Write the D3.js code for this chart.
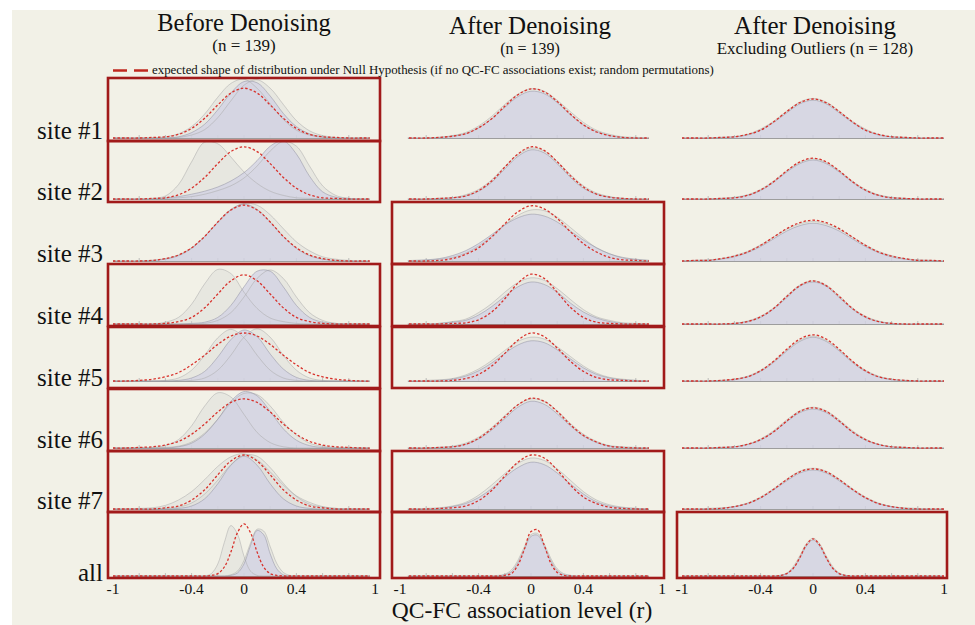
<!DOCTYPE html>
<html lang="en">
<head>
<meta charset="UTF-8"/>
<title>QC-FC association distributions</title>
<script src="https://d3js.org/d3.v7.min.js"></script>
<style>
  body { margin: 0; background: #ffffff; }
  svg text { font-family: "Liberation Serif", "Times New Roman", serif; fill: #111; }
</style>
</head>
<body>
<script>
// ---------------- data ----------------
var rowNames = ["site #1", "site #2", "site #3", "site #4", "site #5", "site #6", "site #7", "all"];
var colTitles = ["Before Denoising", "After Denoising", "After Denoising"];
var colSubtitles = ["(n = 139)", "(n = 139)", "Excluding Outliers (n = 128)"];
var tickLabels = [-1, -0.4, 0, 0.4, 1];
var panelTicks = [-0.8, -0.6, -0.4, -0.2, 0, 0.2, 0.4, 0.6, 0.8];

// r values where the densities were read (sites), and a finer one for "all"
var rGrid = [-1, -0.9, -0.8, -0.7, -0.6, -0.5, -0.4, -0.3, -0.2, -0.1, 0, 0.1, 0.2, 0.3, 0.4, 0.5, 0.6, 0.7, 0.8, 0.9, 1];
var rGridAll = [-1, -0.5, -0.4, -0.35, -0.3, -0.25, -0.2, -0.15, -0.1, -0.05, 0, 0.05, 0.1, 0.15, 0.2, 0.25, 0.3, 0.35, 0.4, 0.5, 1];

// relative density, Before Denoising
var beforeMain = [
  [0,0,0,0,0,.02,.09,.23,.47,.75,.94,.92,.70,.41,.19,.07,.02,0,0,0,0],
  [0,0,0,0,.02,.04,.08,.13,.20,.30,.44,.64,.88,.97,.75,.38,.12,.03,.01,0,0],
  [0,0,0,.01,.03,.09,.21,.41,.65,.86,.95,.86,.65,.41,.21,.09,.03,.01,0,0,0],
  [0,0,0,0,0,0,.01,.03,.11,.31,.62,.88,.88,.62,.31,.11,.03,.01,0,0,0],
  [0,0,0,0,0,.01,.05,.16,.40,.69,.85,.74,.45,.20,.06,.01,0,0,0,0,0],
  [0,0,0,0,0,.02,.08,.23,.48,.78,.94,.87,.61,.32,.13,.04,.01,0,0,0,0],
  [0,0,0,0,0,.01,.05,.17,.42,.73,.88,.73,.42,.17,.05,.01,0,0,0,0,0],
  [0,0,0,0,0,0,0,0,.01,.05,.20,.51,.76,.69,.37,.12,.02,0,0,0,0]
];
var beforeAltA = [
  [0,0,0,0,.02,.07,.19,.40,.68,.91,.98,.83,.57,.31,.13,.05,.01,0,0,0,0],
  [0,0,0,.01,.05,.24,.62,.95,.92,.70,.45,.26,.13,.06,.02,.01,0,0,0,0,0],
  [0,0,0,.01,.04,.10,.22,.41,.64,.85,.96,.93,.77,.54,.32,.17,.07,.03,.01,0,0],
  [0,0,0,0,.03,.11,.33,.67,.91,.84,.53,.26,.10,.04,.01,0,0,0,0,0,0],
  [0,0,0,0,.01,.05,.18,.43,.72,.86,.72,.43,.18,.05,.01,0,0,0,0,0,0],
  [0,0,0,.01,.04,.14,.37,.70,.92,.85,.56,.26,.09,.02,0,0,0,0,0,0,0],
  [0,0,.01,.02,.06,.15,.29,.49,.71,.87,.92,.82,.62,.40,.22,.11,.04,.01,0,0,0],
  [0,0,0,0,0,.04,.20,.56,.84,.70,.33,.08,.01,0,0,0,0,0,0,0,0]
];
var beforeAltB = [
  [0,0,0,0,0,.01,.05,.14,.34,.62,.88,.97,.83,.56,.29,.12,.04,.01,0,0,0],
  [0,0,0,0,.01,.02,.04,.08,.14,.22,.35,.55,.80,.96,.88,.55,.22,.06,.01,0,0],
  null,
  [0,0,0,0,0,0,0,.01,.06,.19,.45,.76,.90,.76,.45,.19,.06,.01,0,0,0],
  [0,0,0,0,0,0,.01,.05,.18,.43,.73,.87,.73,.43,.18,.05,.01,0,0,0,0],
  [0,0,0,0,.01,.03,.10,.25,.48,.75,.91,.89,.70,.43,.22,.08,.03,.01,0,0,0],
  [0,0,0,0,.01,.03,.10,.25,.48,.74,.90,.88,.69,.43,.21,.08,.03,.01,0,0,0],
  [0,0,0,0,0,0,0,0,.02,.08,.26,.55,.78,.75,.49,.21,.06,.01,0,0,0]
];
var beforeNull = [
  [0,0,0,.01,.02,.06,.16,.33,.55,.75,.83,.75,.55,.33,.16,.06,.02,.01,0,0,0],
  [0,0,0,.01,.02,.07,.18,.36,.59,.79,.87,.79,.59,.36,.18,.07,.02,.01,0,0,0],
  [0,0,0,.01,.04,.10,.22,.41,.65,.85,.93,.85,.65,.41,.22,.10,.04,.01,0,0,0],
  [0,0,0,0,.01,.04,.11,.27,.50,.72,.82,.72,.50,.27,.11,.04,.01,0,0,0,0],
  [0,0,.01,.03,.07,.14,.27,.43,.61,.75,.80,.75,.61,.43,.27,.14,.07,.03,.01,0,0],
  [0,0,.01,.02,.05,.11,.23,.40,.60,.76,.82,.76,.60,.40,.23,.11,.05,.02,.01,0,0],
  [0,0,0,0,.02,.05,.15,.32,.57,.80,.90,.80,.57,.32,.15,.05,.02,0,0,0,0],
  [0,0,0,0,0,.01,.04,.15,.40,.72,.87,.72,.40,.15,.04,.01,0,0,0,0,0]
];

// After Denoising
var afterMain = [
  [0,0,0,.01,.03,.07,.17,.32,.51,.69,.78,.74,.59,.39,.22,.11,.04,.01,0,0,0],
  [0,0,0,.01,.02,.05,.13,.28,.50,.71,.82,.77,.59,.36,.18,.08,.03,.01,0,0,0],
  [0,.01,.02,.04,.09,.17,.29,.44,.60,.72,.78,.75,.65,.50,.35,.22,.12,.06,.03,.01,0],
  [0,0,0,.01,.03,.06,.15,.29,.46,.62,.70,.66,.53,.35,.20,.10,.04,.01,0,0,0],
  [0,0,0,.01,.03,.08,.17,.30,.46,.60,.67,.64,.52,.37,.22,.11,.05,.02,.01,0,0],
  [0,0,0,.01,.02,.06,.15,.30,.49,.68,.78,.73,.57,.37,.20,.09,.03,.01,0,0,0],
  [0,0,0,.01,.04,.09,.19,.34,.53,.69,.78,.74,.60,.42,.25,.12,.05,.02,.01,0,0],
  [0,0,0,0,0,0,.02,.07,.22,.45,.66,.68,.50,.26,.09,.02,.01,0,0,0,0]
];
var afterAlt = [
  [0,0,0,.01,.04,.09,.20,.36,.56,.73,.82,.78,.63,.44,.26,.13,.06,.02,.01,0,0],
  [0,0,0,.01,.02,.07,.16,.32,.54,.74,.85,.80,.63,.41,.22,.10,.04,.01,0,0,0],
  [0,0,.01,.03,.06,.13,.25,.41,.60,.76,.85,.84,.73,.56,.38,.22,.12,.05,.02,.01,0],
  [0,0,0,.01,.04,.08,.19,.34,.53,.69,.77,.73,.59,.41,.24,.12,.06,.02,.01,0,0],
  [0,0,.01,.02,.04,.10,.20,.34,.51,.66,.73,.70,.57,.41,.25,.13,.06,.03,.01,0,0],
  [0,0,0,.01,.03,.08,.18,.34,.54,.72,.82,.78,.62,.41,.23,.11,.04,.02,.01,0,0],
  [0,0,.01,.02,.05,.11,.23,.40,.59,.76,.85,.81,.67,.48,.29,.15,.07,.03,.01,0,0],
  [0,0,0,0,0,.01,.03,.10,.26,.49,.69,.71,.54,.30,.12,.04,.01,0,0,0,0]
];
var afterNull = [
  [0,0,0,.01,.03,.07,.17,.32,.53,.72,.82,.77,.61,.40,.22,.10,.04,.01,0,0,0],
  [0,0,0,.01,.02,.05,.14,.30,.53,.75,.87,.81,.62,.39,.20,.08,.03,.01,0,0,0],
  [0,0,0,.01,.04,.11,.22,.40,.62,.82,.92,.87,.71,.49,.29,.15,.06,.02,.01,0,0],
  [0,0,0,0,.01,.02,.07,.20,.42,.68,.83,.76,.53,.28,.11,.03,.01,0,0,0,0],
  [0,0,0,0,.01,.04,.11,.25,.46,.68,.80,.74,.55,.33,.16,.06,.02,.01,0,0,0],
  [0,0,0,.01,.02,.06,.16,.32,.52,.72,.83,.78,.61,.39,.21,.10,.03,.01,0,0,0],
  [0,0,0,.01,.02,.05,.14,.31,.55,.78,.90,.85,.65,.40,.20,.09,.03,.01,0,0,0],
  [0,0,0,0,0,0,.01,.04,.18,.45,.74,.77,.52,.22,.06,.01,0,0,0,0,0]
];

// After Denoising, excluding outliers
var exclMain = [
  [0,0,0,.01,.02,.05,.13,.26,.42,.57,.63,.57,.42,.26,.13,.05,.02,.01,0,0,0],
  [0,0,0,.01,.02,.06,.14,.28,.45,.59,.65,.59,.45,.28,.14,.06,.02,.01,0,0,0],
  [0,.01,.01,.03,.07,.14,.24,.37,.50,.59,.63,.59,.50,.37,.24,.14,.07,.03,.01,.01,0],
  [0,0,0,0,.01,.04,.11,.25,.44,.63,.70,.63,.44,.25,.11,.04,.01,0,0,0,0],
  [0,0,0,.01,.02,.07,.16,.31,.50,.66,.73,.66,.50,.31,.16,.07,.02,.01,0,0,0],
  [0,0,0,.01,.02,.06,.13,.27,.44,.59,.65,.59,.44,.27,.13,.06,.02,.01,0,0,0],
  [0,0,0,.01,.04,.09,.18,.32,.47,.60,.65,.60,.47,.32,.18,.09,.04,.01,0,0,0],
  [0,0,0,0,0,.01,.04,.13,.30,.50,.60,.50,.30,.13,.04,.01,0,0,0,0,0]
];
var exclAlt = [
  [0,0,0,.01,.02,.06,.15,.28,.45,.60,.66,.60,.45,.28,.15,.06,.02,.01,0,0,0],
  [0,0,0,.01,.03,.07,.16,.30,.47,.61,.67,.61,.47,.30,.16,.07,.03,.01,0,0,0],
  [0,.01,.02,.04,.09,.16,.27,.40,.53,.62,.66,.62,.53,.40,.27,.16,.09,.04,.02,.01,0],
  [0,0,0,0,.01,.05,.13,.27,.47,.65,.72,.65,.47,.27,.13,.05,.01,0,0,0,0],
  [0,0,0,.01,.03,.08,.18,.33,.52,.68,.75,.68,.52,.33,.18,.08,.03,.01,0,0,0],
  [0,0,0,.01,.02,.06,.15,.29,.47,.62,.68,.62,.47,.29,.15,.06,.02,.01,0,0,0],
  [0,0,.01,.02,.04,.10,.20,.34,.50,.63,.68,.63,.50,.34,.20,.10,.04,.02,.01,0,0],
  [0,0,0,0,0,.01,.05,.16,.34,.54,.63,.54,.34,.16,.05,.01,0,0,0,0,0]
];
var exclNull = [
  [0,0,0,.01,.02,.06,.13,.27,.44,.59,.65,.59,.44,.27,.13,.06,.02,.01,0,0,0],
  [0,0,0,.01,.02,.06,.15,.29,.47,.62,.68,.62,.47,.29,.15,.06,.02,.01,0,0,0],
  [0,.01,.01,.04,.08,.15,.26,.40,.54,.64,.68,.64,.54,.40,.26,.15,.08,.04,.01,.01,0],
  [0,0,0,0,.01,.04,.12,.26,.46,.64,.72,.64,.46,.26,.12,.04,.01,0,0,0,0],
  [0,0,0,.01,.03,.07,.17,.33,.53,.70,.77,.70,.53,.33,.17,.07,.03,.01,0,0,0],
  [0,0,0,.01,.02,.06,.14,.27,.45,.61,.67,.61,.45,.27,.14,.06,.02,.01,0,0,0],
  [0,0,0,.01,.04,.09,.19,.33,.49,.62,.67,.62,.49,.33,.19,.09,.04,.01,0,0,0],
  [0,0,0,0,0,.01,.04,.13,.31,.52,.62,.52,.31,.13,.04,.01,0,0,0,0,0]
];

// panels that differ from the null (framed in red)
var beforeSig = [1, 1, 0, 1, 1, 1, 1, 1];
var afterSig  = [0, 0, 1, 1, 1, 0, 1, 1];
var exclSig   = [0, 0, 0, 0, 0, 0, 0, 1];

// ---------------- layout ----------------
var w = 975, h = 625;
var colRange = [[113, 375], [400, 662], [682, 944]];   // x of r=-1 .. r=1
var drawn = [[-1, 0.96], [-0.94, 0.9], [-1, 1]];        // r extent of baseline in each column
var boxX = [[108, 380], [392, 664], [677, 947]];
var rowBase = [138, 199, 261, 324, 381, 448, 509, 576];
var rowTop = [78, 141, 202, 264, 327, 389, 451, 512];
var rowBot = [141, 202, 264, 326, 388, 451, 512, 578];
var labelBase = [139, 200, 262, 324, 386, 448, 509, 581];
var titleX = [244, 530, 815];
var titleY = [30.5, 33.5, 33.5];
var subY = [51, 54, 54.3];

var columns = [
  {main: beforeMain, alts: [beforeAltA, beforeAltB], nul: beforeNull, sig: beforeSig},
  {main: afterMain, alts: [afterAlt], nul: afterNull, sig: afterSig},
  {main: exclMain, alts: [exclAlt], nul: exclNull, sig: exclSig}
];

var svg = d3.select("body").append("svg")
  .attr("width", w)
  .attr("height", h);

svg.append("rect")
  .attr("x", 12).attr("y", 10)
  .attr("width", w - 12).attr("height", h - 10)
  .attr("fill", "#f2f1e7");

var defs = svg.append("defs");
var yScale = d3.scaleLinear().domain([0, 1]).range([0, 60]);

//------------panels-------------
columns.forEach(function (col, c) {
  var xScale = d3.scaleLinear().domain([-1, 1]).range(colRange[c]);
  var x0 = xScale(drawn[c][0]), x1 = xScale(drawn[c][1]);

  defs.append("clipPath").attr("id", "clip" + c)
    .append("rect")
    .attr("x", x0).attr("y", 60)
    .attr("width", x1 - x0).attr("height", 530);

  var g = svg.append("g");
  var plot = g.append("g").attr("clip-path", "url(#clip" + c + ")");

  rowNames.forEach(function (name, r) {
    var grid = (r === rowNames.length - 1) ? rGridAll : rGrid;
    var base = rowBase[r];

    var area = d3.area()
      .x(function (d, i) { return xScale(grid[i]); })
      .y0(base)
      .y1(function (d) { return base - yScale(d); })
      .curve(d3.curveCatmullRom);
    var line = d3.line()
      .x(function (d, i) { return xScale(grid[i]); })
      .y(function (d) { return base - yScale(d); })
      .curve(d3.curveCatmullRom);

    // baseline + small ticks
    plot.append("line")
      .attr("x1", x0).attr("x2", x1)
      .attr("y1", base + 0.5).attr("y2", base + 0.5)
      .attr("stroke", "#9d9d9d").attr("stroke-width", 1.2);
    plot.selectAll(null)
      .data(panelTicks)
      .enter()
      .append("line")
      .attr("x1", function (d) { return xScale(d); })
      .attr("x2", function (d) { return xScale(d); })
      .attr("y1", base).attr("y2", base - 3)
      .attr("stroke", "#b0b0b0").attr("stroke-width", 0.8);

    var alts = col.alts.map(function (a) { return a[r]; }).filter(function (a) { return a; });

    // other pipelines (grey, translucent)
    alts.forEach(function (a) {
      plot.append("path").attr("d", area(a))
        .attr("fill", "rgba(218,218,214,0.42)");
    });
    // main distribution (lavender)
    plot.append("path").attr("d", area(col.main[r]))
      .attr("fill", "rgba(208,208,228,0.7)");
    alts.forEach(function (a) {
      plot.append("path").attr("d", line(a))
        .attr("fill", "none")
        .attr("stroke", "rgba(170,170,170,0.5)").attr("stroke-width", 1);
    });
    plot.append("path").attr("d", line(col.main[r]))
      .attr("fill", "none")
      .attr("stroke", "rgba(150,150,165,0.55)").attr("stroke-width", 1);

    // null hypothesis
    plot.append("path").attr("d", line(col.nul[r]))
      .attr("fill", "none")
      .attr("stroke", "#d8322c")
      .attr("stroke-width", 1.3)
      .attr("stroke-dasharray", "2.5,2");

    if (col.sig[r]) {
      g.append("rect")
        .attr("x", boxX[c][0]).attr("y", rowTop[r])
        .attr("width", boxX[c][1] - boxX[c][0])
        .attr("height", rowBot[r] - rowTop[r])
        .attr("fill", "none")
        .attr("stroke", "#a11a1a")
        .attr("stroke-width", 2.6);
    }
  });

  // tick labels
  g.selectAll(null)
    .data(tickLabels)
    .enter()
    .append("text")
    .attr("x", function (d) { return xScale(d); })
    .attr("y", 594)
    .attr("text-anchor", "middle")
    .attr("font-size", 15.5)
    .text(function (d) { return String(d); });

  // titles
  svg.append("text")
    .attr("x", titleX[c]).attr("y", titleY[c])
    .attr("text-anchor", "middle")
    .attr("font-size", c === 0 ? 24.5 : 25)
    .text(colTitles[c]);
  svg.append("text")
    .attr("x", titleX[c]).attr("y", subY[c])
    .attr("text-anchor", "middle")
    .attr("font-size", c === 1 ? 16 : 17)
    .text(colSubtitles[c]);
});

//-------row labels---------
svg.selectAll(".rowlab")
  .data(rowNames)
  .enter()
  .append("text")
  .attr("class", "rowlab")
  .attr("x", 103)
  .attr("y", function (d, i) { return labelBase[i]; })
  .attr("text-anchor", "end")
  .attr("font-size", 25)
  .text(function (d) { return d; });

//-------legend---------
svg.append("line")
  .attr("x1", 113).attr("x2", 149)
  .attr("y1", 70.5).attr("y2", 70.5)
  .attr("stroke", "#c0281f").attr("stroke-width", 2.4)
  .attr("stroke-dasharray", "14,7");
svg.append("text")
  .attr("x", 152).attr("y", 74)
  .attr("font-size", 12.9)
  .text("expected shape of distribution under Null Hypothesis (if no QC-FC associations exist; random permutations)");

//-------x axis title---------
svg.append("text")
  .attr("x", 522).attr("y", 618)
  .attr("text-anchor", "middle")
  .attr("font-size", 23.5)
  .text("QC-FC association level (r)");
</script>
</body>
</html>
